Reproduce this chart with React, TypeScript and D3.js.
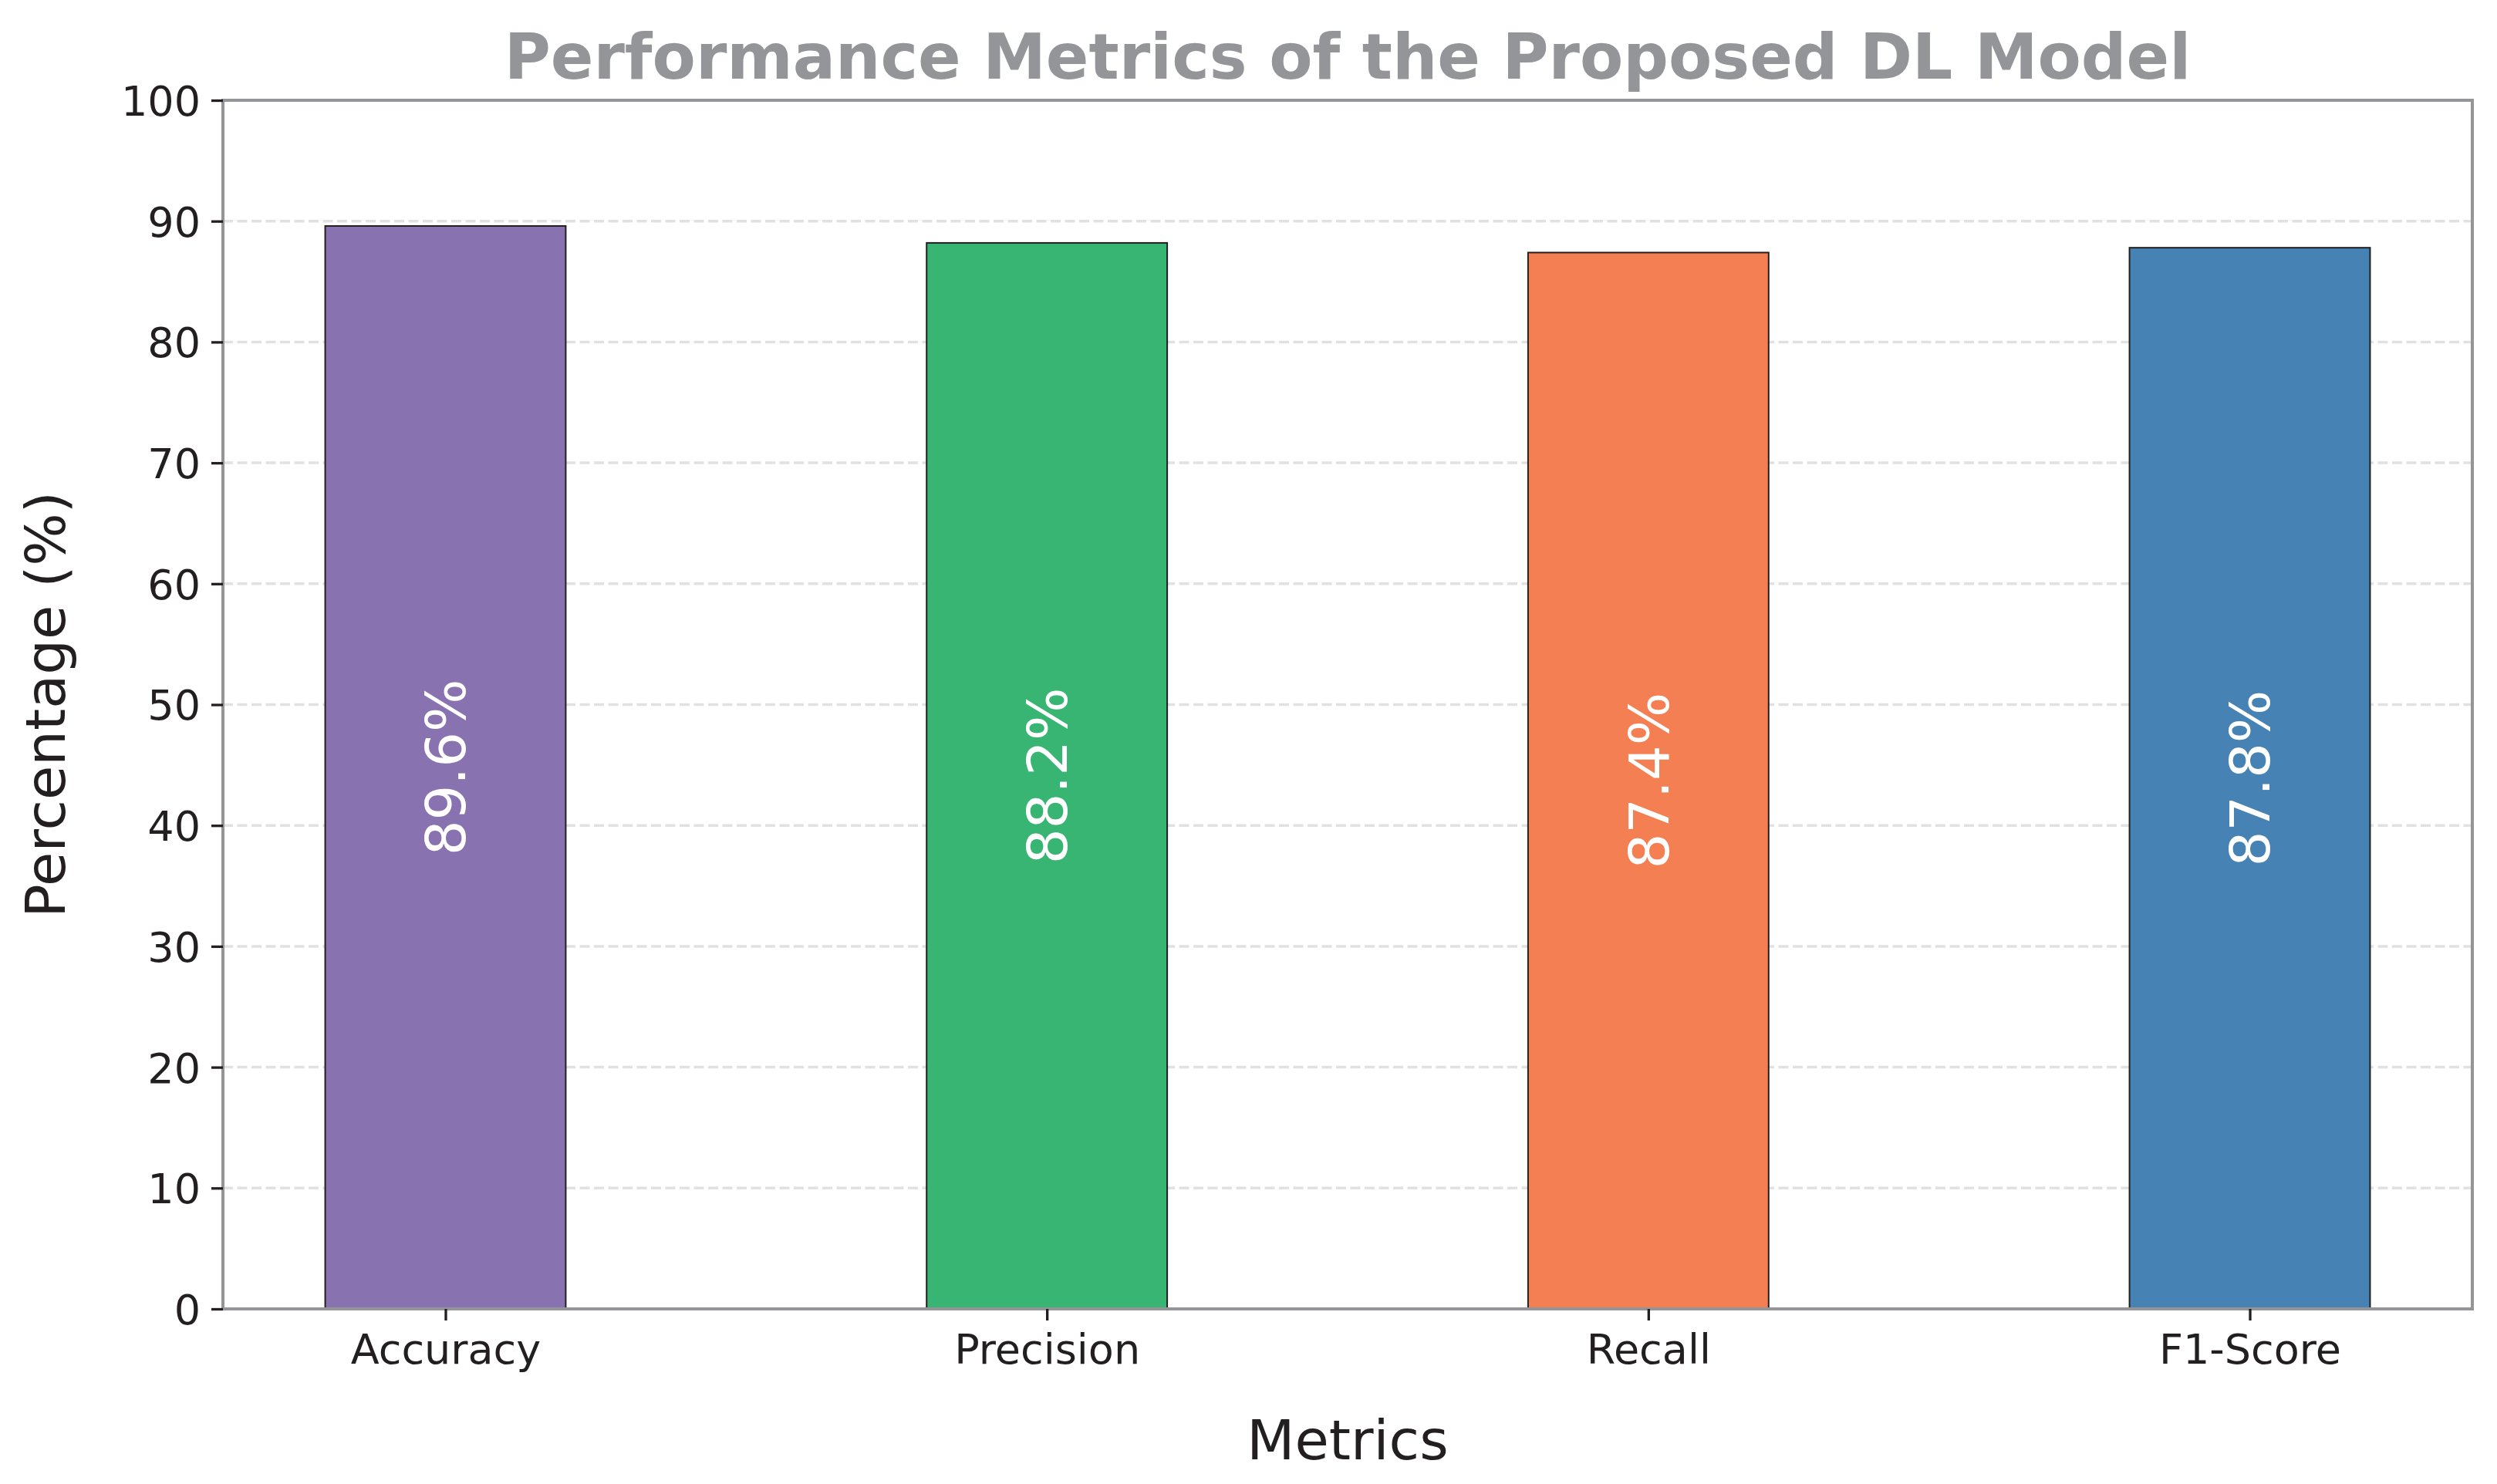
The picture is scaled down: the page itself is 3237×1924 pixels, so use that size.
import React, { useEffect, useRef } from "react";
import * as d3 from "d3";

const metrics = ["Accuracy", "Precision", "Recall", "F1-Score"];
const values = [89.6, 88.2, 87.4, 87.8];
const barColors = ["#8872b0", "#38b572", "#f47f53", "#4682b4"];
const yTicks = [0, 10, 20, 30, 40, 50, 60, 70, 80, 90, 100];

const App: React.FC = () => {
  const ref = useRef<SVGSVGElement | null>(null);

  useEffect(() => {
    const W = 3237,
      H = 1924;
    const margin = { top: 130, right: 32, bottom: 227, left: 289 };
    const width = W - margin.left - margin.right;
    const height = H - margin.top - margin.bottom;
    const font = "DejaVu Sans, sans-serif";

    const svg = d3.select(ref.current);
    svg.selectAll("*").remove();
    svg.append("rect").attr("width", W).attr("height", H).attr("fill", "#fff");

    const g = svg
      .append("g")
      .attr("transform", `translate(${margin.left},${margin.top})`);

    // x is continuous like matplotlib: bars at 0..3, width 0.4, 5% margins
    const barW = 0.4;
    const x = d3
      .scaleLinear()
      .domain([-0.2 - 0.17, 3.2 + 0.17])
      .range([0, width]);

    const y = d3.scaleLinear().domain([0, 100]).range([height, 0]);

    // grid
    g.selectAll("line.grid")
      .data(yTicks.filter((t) => t > 0 && t < 100))
      .enter()
      .append("line")
      .attr("class", "grid")
      .attr("x1", 0)
      .attr("x2", width)
      .attr("y1", (d) => y(d))
      .attr("y2", (d) => y(d))
      .attr("stroke", "#e1e1e2")
      .attr("stroke-width", 3.5)
      .attr("stroke-dasharray", "13,5.5");

    // bars
    g.selectAll("rect.bar")
      .data(values)
      .enter()
      .append("rect")
      .attr("class", "bar")
      .attr("x", (_, i) => x(i - barW / 2))
      .attr("y", (d) => y(d))
      .attr("width", x(barW) - x(0))
      .attr("height", (d) => height - y(d))
      .attr("fill", (_, i) => barColors[i])
      .attr("stroke", "#231f20")
      .attr("stroke-width", 2);

    // value labels inside bars, rotated
    g.selectAll("text.val")
      .data(values)
      .enter()
      .append("text")
      .attr("class", "val")
      .attr(
        "transform",
        (d, i) => `translate(${x(i)},${y(d / 2)}) rotate(-90)`
      )
      .attr("text-anchor", "middle")
      .attr("dy", "0.36em")
      .attr("fill", "#fff")
      .attr("font-family", font)
      .attr("font-size", 72)
      .text((d) => `${d.toFixed(1)}%`);

    // spines
    g.append("rect")
      .attr("x", 0)
      .attr("y", 0)
      .attr("width", width)
      .attr("height", height)
      .attr("fill", "none")
      .attr("stroke", "#939598")
      .attr("stroke-width", 4);

    // y axis ticks
    const yAxis = g
      .append("g")
      .call(
        d3
          .axisLeft(y)
          .tickValues(yTicks)
          .tickSize(15)
          .tickPadding(14)
      );
    yAxis.select(".domain").remove();
    yAxis.selectAll(".tick line").attr("stroke", "#231f20").attr("stroke-width", 3.3);
    yAxis
      .selectAll(".tick text")
      .attr("fill", "#231f20")
      .attr("font-family", font)
      .attr("font-size", 54)
      .attr("dy", "0.36em");

    // x axis ticks
    const xAxis = g
      .append("g")
      .attr("transform", `translate(0,${height})`)
      .call(
        d3
          .axisBottom(x)
          .tickValues(d3.range(metrics.length))
          .tickFormat((d) => metrics[d as number])
          .tickSize(15)
          .tickPadding(14)
      );
    xAxis.select(".domain").remove();
    xAxis.selectAll(".tick line").attr("stroke", "#231f20").attr("stroke-width", 3.3);
    xAxis
      .selectAll(".tick text")
      .attr("fill", "#231f20")
      .attr("font-family", font)
      .attr("font-size", 54)
      .attr("dy", "0.78em");

    // axis labels
    svg
      .append("text")
      .attr("x", margin.left + width / 2)
      .attr("y", 1892)
      .attr("text-anchor", "middle")
      .attr("fill", "#231f20")
      .attr("font-family", font)
      .attr("font-size", 72)
      .text("Metrics");

    svg
      .append("text")
      .attr("transform", `translate(84,${margin.top + height / 2}) rotate(-90)`)
      .attr("text-anchor", "middle")
      .attr("fill", "#231f20")
      .attr("font-family", font)
      .attr("font-size", 72)
      .text("Percentage (%)");

    // title
    svg
      .append("text")
      .attr("x", margin.left + width / 2)
      .attr("y", 102)
      .attr("text-anchor", "middle")
      .attr("fill", "#939598")
      .attr("font-family", font)
      .attr("font-weight", "bold")
      .attr("font-size", 82)
      .text("Performance Metrics of the Proposed DL Model");
  }, []);

  return (
    <svg
      ref={ref}
      width={3237}
      height={1924}
      style={{ position: "absolute", left: 0, top: 0 }}
    />
  );
};

export default App;
